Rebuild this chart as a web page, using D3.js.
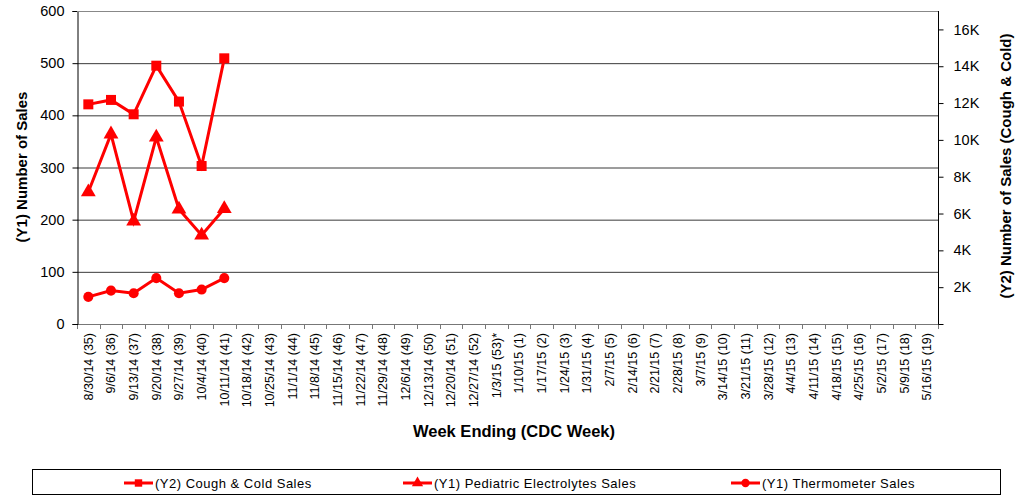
<!DOCTYPE html>
<html><head><meta charset="utf-8">
<script src="https://cdn.jsdelivr.net/npm/d3@7"></script>
<style>
html,body{margin:0;padding:0;background:#fff;}
svg{display:block;font-family:"Liberation Sans",Arial,sans-serif;}
</style></head>
<body>
<svg id="chart" width="1019" height="495"></svg>
<script>
const categories = ["8/30/14 (35)","9/6/14 (36)","9/13/14 (37)","9/20/14 (38)","9/27/14 (39)","10/4/14 (40)","10/11/14 (41)","10/18/14 (42)","10/25/14 (43)","11/1/14 (44)","11/8/14 (45)","11/15/14 (46)","11/22/14 (47)","11/29/14 (48)","12/6/14 (49)","12/13/14 (50)","12/20/14 (51)","12/27/14 (52)","1/3/15 (53)*","1/10/15 (1)","1/17/15 (2)","1/24/15 (3)","1/31/15 (4)","2/7/15 (5)","2/14/15 (6)","2/21/15 (7)","2/28/15 (8)","3/7/15 (9)","3/14/15 (10)","3/21/15 (11)","3/28/15 (12)","4/4/15 (13)","4/11/15 (14)","4/18/15 (15)","4/25/15 (16)","5/2/15 (17)","5/9/15 (18)","5/16/15 (19)"];
const coughColdSales = [11930, 12170, 11390, 14030, 12080, 8580, 14430];
const pediatricElectrolytesSales = [253, 364, 197, 358, 220, 170, 221];
const thermometerSales = [52, 64, 59, 88, 59, 66, 88];
const y1Ticks = [0, 100, 200, 300, 400, 500, 600];
const y2Ticks = [2000, 4000, 6000, 8000, 10000, 12000, 14000, 16000];
const seriesNames = ["(Y2) Cough & Cold Sales", "(Y1) Pediatric Electrolytes Sales", "(Y1) Thermometer Sales"];

const svg = d3.select("#chart");
const L = 77, R = 938, T = 11, B = 324;
const red = "#ff0000";

const x = d3.scaleBand().domain(categories).range([L, R]).paddingInner(0).paddingOuter(0);
const y1 = d3.scaleLinear().domain([0, 600]).range([B, T]);
const y2 = d3.scaleLinear().domain([0, 17000]).range([B, T]);

// gridlines
svg.append("g").selectAll("line").data(y1Ticks.filter(d => d > 0)).join("line")
  .attr("x1", L).attr("x2", R).attr("y1", d => y1(d) + 0.5).attr("y2", d => y1(d) + 0.5)
  .attr("stroke", d => d === 600 ? "#888" : "#3a3a3a").attr("stroke-width", 1);

// x axis ticks (band boundaries)
const bounds = categories.map(c => x(c)).concat([R]);
svg.append("g").selectAll("line").data(bounds).join("line")
  .attr("x1", d => Math.round(d) + 0.5).attr("x2", d => Math.round(d) + 0.5)
  .attr("y1", B).attr("y2", B + 5).attr("stroke", "#777");
svg.append("line").attr("x1", L).attr("x2", R).attr("y1", B + 0.5).attr("y2", B + 0.5).attr("stroke", "#777");

// x labels
svg.append("g").selectAll("text").data(categories).join("text")
  .attr("transform", d => `translate(${x(d) + x.bandwidth() / 2 + 4.5},333) rotate(-90)`)
  .attr("text-anchor", "end").attr("font-size", 12.5).attr("fill", "#000")
  .text(d => d);

// left axis
const yAxisL = d3.axisLeft(y1).tickValues(y1Ticks).tickSize(5).tickPadding(8);
const gL = svg.append("g").attr("transform", `translate(${L + 0.5},0)`).call(yAxisL);
gL.select(".domain").attr("stroke", "#000");
gL.selectAll(".tick line").attr("stroke", "#000");
gL.selectAll(".tick text").attr("font-size", 14.5).attr("font-family", "Liberation Sans, Arial, sans-serif").attr("fill", "#000");

// right axis
const yAxisR = d3.axisRight(y2).tickValues(y2Ticks).tickSize(5).tickPadding(10)
  .tickFormat(d => (d / 1000) + "K");
const gR = svg.append("g").attr("transform", `translate(${R + 0.5},0)`).call(yAxisR);
gR.select(".domain").attr("stroke", "#000").attr("d", `M5,${B + 0.5}H0V${T}`);
gR.selectAll(".tick line").attr("stroke", "#000");
gR.selectAll(".tick text").attr("font-size", 14.5).attr("font-family", "Liberation Sans, Arial, sans-serif").attr("fill", "#000");

// top border
svg.append("line").attr("x1", L).attr("x2", R).attr("y1", T + 0.5).attr("y2", T + 0.5).attr("stroke", "#888");

// axis titles
svg.append("text").attr("transform", `translate(27,167) rotate(-90)`)
  .attr("text-anchor", "middle").attr("font-size", 15).attr("font-weight", "bold").text("(Y1) Number of Sales");
svg.append("text").attr("transform", `translate(1011,166) rotate(-90)`)
  .attr("text-anchor", "middle").attr("font-size", 15).attr("font-weight", "bold").text("(Y2) Number of Sales (Cough & Cold)");
svg.append("text").attr("x", 514).attr("y", 437)
  .attr("text-anchor", "middle").attr("font-size", 16.5).attr("font-weight", "bold").text("Week Ending (CDC Week)");

// series
const cx = i => x(categories[i]) + x.bandwidth() / 2;
const lineG = svg.append("g");
function drawSeries(vals, scale, shape, size) {
  const line = d3.line().x((d, i) => cx(i)).y(d => scale(d));
  lineG.append("path").datum(vals).attr("d", line).attr("fill", "none")
    .attr("stroke", red).attr("stroke-width", 3).attr("stroke-linejoin", "miter");
  lineG.append("g").selectAll("path").data(vals).join("path")
    .attr("transform", (d, i) => `translate(${cx(i)},${scale(d)})`)
    .attr("d", d3.symbol().type(shape).size(size)).attr("fill", red);
}
drawSeries(thermometerSales, y1, d3.symbolCircle, 80);
drawSeries(pediatricElectrolytesSales, y1, d3.symbolTriangle, 95);
drawSeries(coughColdSales, y2, d3.symbolSquare, 100);

// legend
svg.append("rect").attr("x", 32.5).attr("y", 469.5).attr("width", 968).attr("height", 25)
  .attr("fill", "none").attr("stroke", "#000");
const legendItems = [
  {name: seriesNames[0], shape: d3.symbolSquare, size: 55, x0: 124},
  {name: seriesNames[1], shape: d3.symbolTriangle, size: 55, x0: 403},
  {name: seriesNames[2], shape: d3.symbolCircle, size: 55, x0: 731}
];
const lg = svg.append("g").selectAll("g").data(legendItems).join("g")
  .attr("transform", d => `translate(${d.x0},483)`);
lg.append("line").attr("x1", 0).attr("x2", 29).attr("stroke", red).attr("stroke-width", 3);
lg.append("path").attr("transform", "translate(14.5,0)").attr("d", d => d3.symbol().type(d.shape).size(d.size)()).attr("fill", red);
lg.append("text").attr("x", 31).attr("y", 5).attr("font-size", 13).attr("letter-spacing", 0.5).attr("fill", "#000").text(d => d.name);
</script>
</body></html>
